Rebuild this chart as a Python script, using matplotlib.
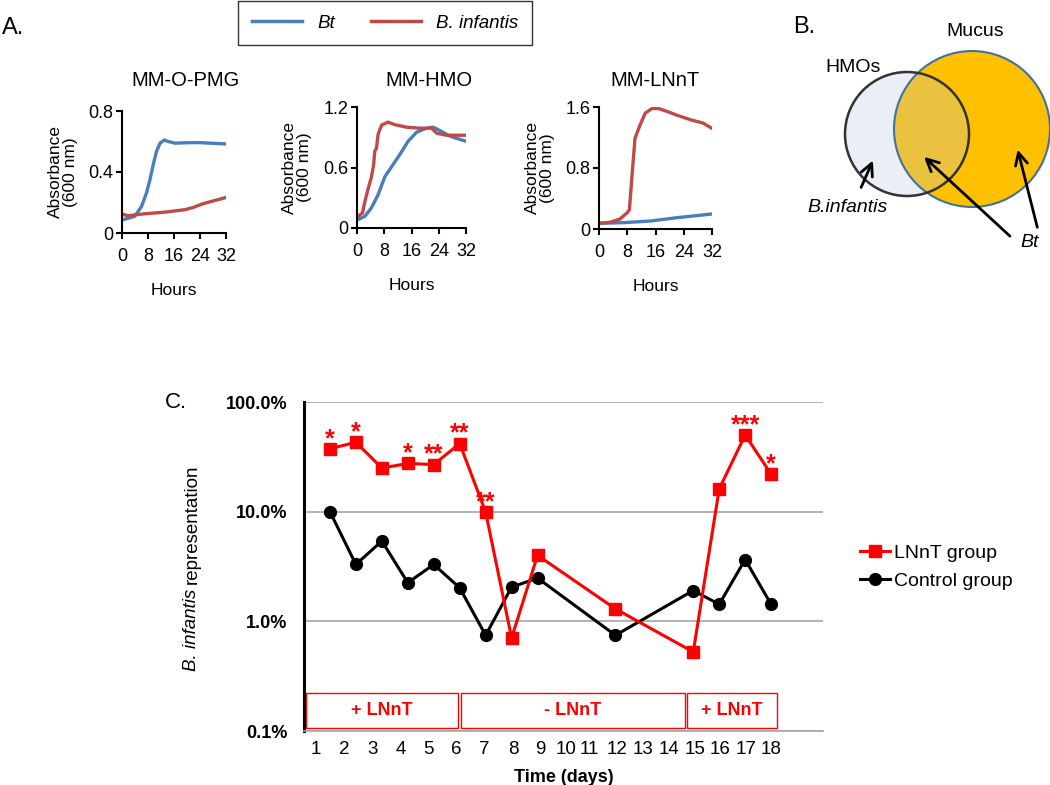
import matplotlib
matplotlib.use('Agg')
import matplotlib.pyplot as plt
import matplotlib.transforms as mtransforms
from matplotlib.patches import Circle, Rectangle
from matplotlib.lines import Line2D
from matplotlib.ticker import FuncFormatter, NullLocator

plt.rcParams['font.family'] = ['Liberation Sans', 'DejaVu Sans']

W, H = 1050, 785
BLUE = '#4A7EBB'
DRED = '#BE4B48'
RED = '#FF0000'

# ---- panel A: growth curves (hours, absorbance 600 nm) ----
pmg_bt_h = [0.3, 3.9, 6, 7.5, 8.6, 9.6, 10.6, 11.7, 13, 14.2, 16.3, 20, 23.5, 28, 32]
pmg_bt = [0.087, 0.109, 0.174, 0.26, 0.35, 0.447, 0.534, 0.589, 0.61, 0.6, 0.589, 0.592, 0.593, 0.588, 0.584]
pmg_bi_h = [0, 1.9, 6, 13.2, 19.4, 22, 24.6, 28.7, 32]
pmg_bi = [0.124, 0.113, 0.124, 0.137, 0.153, 0.168, 0.19, 0.214, 0.233]

hmo_bt_h = [0.3, 2.3, 4.2, 6.2, 8.2, 10.6, 12.6, 15, 17.5, 20.4, 22.4, 24.4, 27.3, 32]
hmo_bt = [0.083, 0.116, 0.198, 0.33, 0.51, 0.63, 0.73, 0.86, 0.95, 0.99, 1.0, 0.965, 0.91, 0.86]
hmo_bi_h = [0.3, 1.6, 2.3, 3.2, 4.2, 4.9, 5.2, 5.7, 6.2, 7.2, 9.1, 11.1, 14.5, 18.5, 21.9, 23.4, 26.3, 32]
hmo_bi = [0.116, 0.149, 0.26, 0.38, 0.5, 0.63, 0.76, 0.79, 0.93, 1.02, 1.05, 1.025, 1.0, 0.99, 0.99, 0.94, 0.92, 0.92]

lnnt_bt_h = [0, 6.9, 14.6, 22.2, 32]
lnnt_bt = [0.075, 0.083, 0.105, 0.149, 0.197]
lnnt_bi_h = [0, 3.1, 5.9, 7.9, 8.6, 9.3, 10.2, 11.5, 13.1, 15, 16.9, 19.4, 22.2, 26.1, 29.4, 32]
lnnt_bi = [0.075, 0.088, 0.13, 0.21, 0.25, 0.67, 1.19, 1.35, 1.52, 1.58, 1.58, 1.54, 1.49, 1.43, 1.39, 1.32]

panel_titles = ['MM-O-PMG', 'MM-HMO', 'MM-LNnT']
panel_ymax = [0.8, 1.2, 1.6]

# ---- panel C: B. infantis representation (%) ----
days = [1, 2, 3, 4, 5, 6, 7, 8, 9, 12, 15, 16, 17, 18]
lnnt_group = [37.4, 43, 25, 27.5, 26.9, 41.8, 9.9, 0.705, 4.0, 1.30, 0.526, 16.1, 50, 22]
control_group = [10, 3.3, 5.4, 2.25, 3.3, 2.02, 0.746, 2.05, 2.48, 0.746, 1.91, 1.43, 3.66, 1.43]
signif = ['*', '*', '', '*', '**', '**', '**', '', '', '', '', '', '***', '*']
day_labels = [str(d) for d in range(1, 19)]
phases = ['+ LNnT', '- LNnT', '+ LNnT']

fig = plt.figure(figsize=(W / 100, H / 100), dpi=100)


def px_axes(l, t, r, b):
    return fig.add_axes([l / W, 1 - b / H, (r - l) / W, (b - t) / H])


# ---------------- A ----------------
boxes = [(122, 111, 226, 233), (357, 107, 466, 228), (599, 107, 712, 229)]
series = [(pmg_bt_h, pmg_bt, pmg_bi_h, pmg_bi),
          (hmo_bt_h, hmo_bt, hmo_bi_h, hmo_bi),
          (lnnt_bt_h, lnnt_bt, lnnt_bi_h, lnnt_bi)]
title_x = [0.615, 0.66, 0.5]
title_pad = [18, 15, 15]
for box, (bh, bv, rh, rv), title, ymax, tx, tp in zip(boxes, series, panel_titles, panel_ymax,
                                                      title_x, title_pad):
    ax = px_axes(*box)
    ax.plot(bh, bv, color=BLUE, lw=2.4, solid_capstyle='round')
    ax.plot(rh, rv, color=DRED, lw=2.4, solid_capstyle='round')
    ax.set_xlim(0, 32)
    ax.set_ylim(0, ymax)
    ax.set_xticks([0, 8, 16, 24, 32])
    ax.set_yticks([0, ymax / 2, ymax])
    ax.yaxis.set_major_formatter(FuncFormatter(lambda v, p: '0' if v == 0 else f'{v:g}'))
    for s in ['top', 'right']:
        ax.spines[s].set_visible(False)
    for s in ['left', 'bottom']:
        ax.spines[s].set_linewidth(1.5)
    ax.tick_params(direction='out', length=4, width=1.5, labelsize=13)
    ax.tick_params(axis='x', pad=7)
    ax.tick_params(axis='y', pad=2)
    ax.set_xlabel('Hours', fontsize=12.5, labelpad=13)
    ax.set_ylabel('Absorbance\n(600 nm)', fontsize=12.5, labelpad=8, linespacing=1.0)
    ax.set_title(title, fontsize=14.5, pad=tp, x=tx)
    ax.patch.set_visible(False)

fig.text(2 / W, 1 - 28 / H, 'A.', fontsize=17, va='center', ha='left')

handles = [Line2D([], [], color=BLUE, lw=2.5), Line2D([], [], color=DRED, lw=2.5)]
leg = fig.legend(handles, ['Bt', 'B. infantis'], loc='center', bbox_to_anchor=(385 / W, 1 - 23 / H),
                 ncol=2, frameon=True, fancybox=False, edgecolor='black',
                 prop={'style': 'italic', 'size': 13.5}, handlelength=2.7,
                 handletextpad=0.8, columnspacing=1.9, borderpad=0.7)
leg.get_frame().set_linewidth(1.0)

# ---------------- B (Venn) ----------------
axv = px_axes(780, 0, 1050, 260)
axv.set_xlim(780, 1050)
axv.set_ylim(260, 0)
axv.axis('off')
hmo_c, hmo_r = (907, 134), 62
muc_c, muc_r = (972, 129), 78
axv.add_patch(Circle(hmo_c, hmo_r, facecolor='#E9EEF7', edgecolor='none'))
muc = Circle(muc_c, muc_r, facecolor='#FFC000', edgecolor='none')
axv.add_patch(muc)
ov = Circle(hmo_c, hmo_r, facecolor='#EBC240', edgecolor='none')
axv.add_patch(ov)
ov.set_clip_path(muc)
axv.add_patch(Circle(muc_c, muc_r, facecolor='none', edgecolor='#41719C', lw=1.5))
axv.add_patch(Circle(hmo_c, hmo_r, facecolor='none', edgecolor='#333333', lw=1.8))
axv.text(975, 32, 'Mucus', fontsize=14, ha='center', va='center')
axv.text(853, 67, 'HMOs', fontsize=14, ha='center', va='center')
axv.text(848, 208, 'B.infantis', fontsize=14, style='italic', ha='center', va='center')
axv.text(1030, 243, 'Bt', fontsize=14, style='italic', ha='center', va='center')
arrow = dict(arrowstyle='->', lw=2.0, color='black', mutation_scale=22)
axv.annotate('', xy=(874, 158), xytext=(860, 190), arrowprops=arrow)
axv.annotate('', xy=(922, 155), xytext=(1012, 238), arrowprops=arrow)
axv.annotate('', xy=(1017, 147), xytext=(1038, 230), arrowprops=arrow)
fig.text(793 / W, 1 - 27 / H, 'B.', fontsize=17, va='center', ha='left')

# ---------------- C ----------------
axc = px_axes(304, 402, 823, 731)
axc.set_yscale('log')
axc.set_ylim(0.1, 100)
axc.set_xlim(0, 20)
axc.yaxis.set_minor_locator(NullLocator())
axc.set_yticks([0.1, 1, 10, 100])
axc.set_yticklabels(['0.1%', '1.0%', '10.0%', '100.0%'], fontweight='bold', fontsize=13)
axc.grid(axis='y', color='#A6A6A6', lw=1.2)
axc.set_axisbelow(True)
for s in ['top', 'right']:
    axc.spines[s].set_visible(False)
axc.spines['left'].set_linewidth(2.2)
axc.spines['bottom'].set_color('#A6A6A6')
axc.spines['bottom'].set_linewidth(1.2)
# label positions as printed in the original (slightly offset from the points)
tick_pos = [0.46, 1.54, 2.65, 3.73, 4.81, 5.88, 6.96, 8.08, 9.12, 10.08, 11.0,
            12.08, 13.08, 14.08, 15.08, 16.04, 17.04, 18.0]
axc.set_xticks(tick_pos)
axc.set_xticklabels(day_labels, fontsize=13.5)
axc.tick_params(axis='both', length=0)
axc.tick_params(axis='y', pad=12)
axc.tick_params(axis='x', pad=7)
axc.set_xlabel('Time (days)', fontweight='bold', fontsize=13, labelpad=8)

# y label: italic species name followed by plain text
ylab = fig.text(192 / W, 1 - 671 / H, 'B. infantis', rotation=90, style='italic', fontsize=13.5,
                ha='center', va='bottom')
axc.annotate('representation', xy=(0.5, 1), xycoords=ylab, xytext=(0, 3.5), textcoords='offset points',
             rotation=90, fontsize=13.5, ha='center', va='bottom', annotation_clip=False)

l1, = axc.plot(days, lnnt_group, color=RED, lw=2.2, marker='s', ms=9, label='LNnT group', zorder=3)
l2, = axc.plot(days, control_group, color='black', lw=2.2, marker='o', ms=8.5, label='Control group', zorder=2)
for d, v, s in zip(days, lnnt_group, signif):
    if s:
        axc.annotate(s, (d, v), xytext=(0, -1.5), textcoords='offset points', ha='center', va='bottom',
                     color=RED, fontsize=18, fontweight='bold')

trans = mtransforms.blended_transform_factory(axc.transData, axc.transAxes)
phase_span = [(0.08, 5.92), (6.04, 14.69), (14.77, 18.23)]
for name, (x0, x1) in zip(phases, phase_span):
    axc.add_patch(Rectangle((x0, 0.009), x1 - x0, 0.107, transform=trans, fill=False,
                            edgecolor=RED, lw=1.0, clip_on=False))
    axc.text((x0 + x1) / 2, 0.062, name, transform=trans, ha='center', va='center',
             color=RED, fontsize=13, fontweight='bold')

fig.text(165 / W, 1 - 403 / H, 'C.', fontsize=16, va='center', ha='left')
fig.legend(handles=[l1, l2], loc='center left', bbox_to_anchor=(842 / W, 1 - 567 / H), frameon=False,
           fontsize=14, handlelength=1.55, handletextpad=0.25, labelspacing=0.55)

fig.savefig('out.png', dpi=100)
